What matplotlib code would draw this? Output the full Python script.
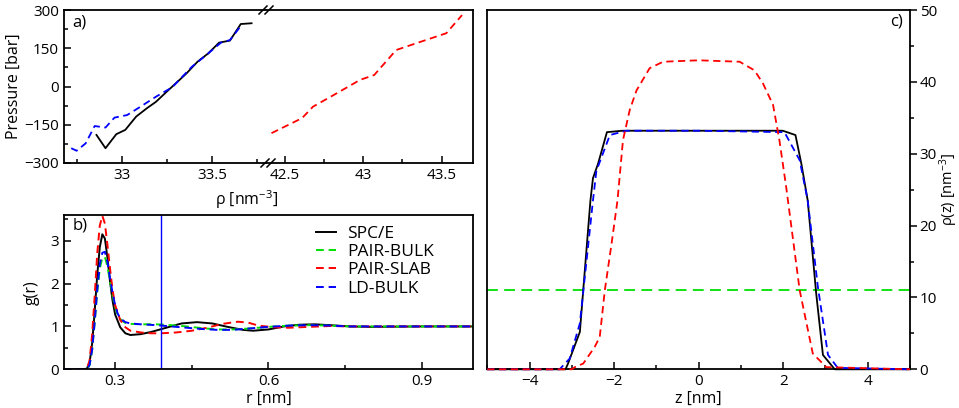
import matplotlib
matplotlib.use("Agg")
import matplotlib.pyplot as plt
from matplotlib.ticker import MultipleLocator
from matplotlib.lines import Line2D

plt.rcParams['font.family'] = ['Open Sans', 'DejaVu Sans']
plt.rcParams['mathtext.fontset'] = 'custom'
plt.rcParams['mathtext.rm'] = 'Open Sans'
plt.rcParams['mathtext.default'] = 'regular'
plt.rcParams['font.size'] = 11

# ---- panel a: pressure vs density ----
rho_spce = [32.86, 32.91, 32.97, 33.02, 33.08, 33.14, 33.19, 33.25, 33.31, 33.36,
            33.42, 33.48, 33.54, 33.60, 33.66, 33.72]
p_spce = [-190, -242, -187, -170, -118, -85, -60, -20, 19, 52,
          97, 130, 172, 180, 245, 248]
rho_ld = [32.72, 32.75, 32.80, 32.85, 32.91, 32.96, 33.03, 33.10, 33.19, 33.28,
          33.39, 33.48, 33.55, 33.60, 33.66]
p_ld = [-242, -252, -223, -155, -161, -122, -112, -81, -40, -3,
        78, 130, 172, 182, 237]
rho_slab = [42.415, 42.61, 42.68, 42.83, 42.98, 43.07, 43.21, 43.34, 43.53, 43.63]
p_slab = [-183, -124, -79, -27, 26, 45, 143, 170, 209, 280]

# ---- panel b: radial distribution functions ----
r_spce = [0.20, 0.24, 0.245, 0.25, 0.255, 0.26, 0.265, 0.27, 0.275, 0.28, 0.285, 0.29,
          0.295, 0.30, 0.31, 0.32, 0.33, 0.35, 0.37, 0.40, 0.43, 0.46, 0.49, 0.52,
          0.55, 0.57, 0.60, 0.63, 0.66, 0.69, 0.72, 0.76, 0.80, 0.90, 1.00]
g_spce = [0, 0, 0.02, 0.15, 0.6, 1.35, 2.2, 2.85, 3.15, 3.05, 2.6, 2.05,
          1.6, 1.28, 0.98, 0.84, 0.80, 0.82, 0.87, 0.97, 1.07, 1.10, 1.07, 0.99,
          0.92, 0.90, 0.93, 1.00, 1.04, 1.05, 1.03, 1.00, 0.99, 1.0, 1.0]
r_slab = [0.20, 0.24, 0.245, 0.25, 0.255, 0.26, 0.265, 0.27, 0.275, 0.28, 0.285, 0.29,
          0.295, 0.30, 0.31, 0.32, 0.33, 0.35, 0.37, 0.39, 0.42, 0.45, 0.48, 0.51,
          0.54, 0.56, 0.58, 0.61, 0.64, 0.68, 0.72, 0.76, 0.80, 0.90, 1.00]
g_slab = [0, 0, 0.03, 0.2, 0.8, 1.7, 2.7, 3.35, 3.58, 3.4, 2.9, 2.35,
          1.85, 1.5, 1.15, 0.98, 0.9, 0.86, 0.84, 0.84, 0.86, 0.9, 0.97, 1.06,
          1.11, 1.09, 1.02, 0.98, 0.97, 0.99, 1.01, 1.00, 1.0, 1.0, 1.0]
r_bulk = [0.20, 0.245, 0.25, 0.255, 0.26, 0.265, 0.27, 0.275, 0.28, 0.285, 0.29,
          0.295, 0.30, 0.305, 0.31, 0.32, 0.33, 0.35, 0.38, 0.41, 0.44, 0.47,
          0.50, 0.53, 0.56, 0.60, 0.64, 0.68, 0.72, 0.76, 0.80, 0.90, 1.00]
g_pair_bulk = [0, 0, 0.1, 0.45, 1.1, 1.8, 2.35, 2.6, 2.62, 2.4, 2.05,
               1.72, 1.45, 1.27, 1.17, 1.08, 1.06, 1.05, 1.05, 1.03, 1.0, 0.96,
               0.93, 0.93, 0.95, 0.99, 1.02, 1.03, 1.02, 1.0, 1.0, 1.0, 1.0]
g_ld_bulk = [0, 0, 0.1, 0.45, 1.1, 1.85, 2.45, 2.72, 2.74, 2.5, 2.12,
             1.78, 1.5, 1.3, 1.19, 1.1, 1.07, 1.05, 1.03, 1.0, 0.97, 0.94,
             0.92, 0.92, 0.95, 0.99, 1.02, 1.03, 1.02, 1.0, 1.0, 1.0, 1.0]
r_cut = 0.39

# ---- panel c: density profiles ----
z_spce = [-5, -3.15, -3.09, -2.81, -2.56, -2.5, -2.38, -2.17, -1.8, 0, 1.99,
          2.29, 2.43, 2.58, 2.78, 2.94, 3.22, 5]
d_spce = [0, 0, 0.8, 5.2, 23.5, 26.6, 28.6, 33.0, 33.2, 33.2, 33.2,
          32.6, 28.6, 23.5, 10.6, 2.0, 0, 0]
z_bulk = [-5, 5]
d_pair_bulk = [11.0, 11.0]
z_slab = [-5, -3.0, -2.93, -2.73, -2.46, -2.34, -2.22, -2.06, -1.92, -1.79, -1.63,
          -1.47, -1.16, -0.84, 0, 0.97, 1.32, 1.52, 1.76, 1.91, 2.07, 2.39, 2.7,
          3.02, 5]
d_slab = [0, 0, 0.3, 0.8, 3.1, 4.5, 11.0, 17.5, 23.5, 31.9, 36.1,
          38.8, 41.9, 42.8, 43.0, 42.8, 41.6, 39.8, 36.8, 31.9, 25.4, 11.0, 2.2,
          0.3, 0]
z_ld = [-5, -3.29, -3.05, -2.81, -2.5, -2.42, -2.1, -1.71, 0, 2.03, 2.39, 2.58,
        2.82, 3.06, 3.29, 5]
d_ld = [0, 0, 1.5, 6.4, 23.5, 27.6, 32.6, 33.2, 33.2, 33.0, 29.1, 23.5,
        11.5, 2.0, 0.2, 0]

BLACK, GREEN, RED, BLUE = 'black', '#00e000', '#ff0000', '#0000ff'
DASH = (4, 2.5)

W, H = 959, 408
fig = plt.figure(figsize=(W / 100, H / 100), dpi=100)


def box(x0, y0, x1, y1):
    # pixel box (from top-left) -> figure fraction rect
    return [x0 / W, 1 - y1 / H, (x1 - x0) / W, (y1 - y0) / H]


def style(ax):
    for s in ax.spines.values():
        s.set_linewidth(1.3)
    ax.tick_params(which='both', direction='in', width=1.1)
    ax.tick_params(which='major', length=5)
    ax.tick_params(which='minor', length=3)


# panel a
axl = fig.add_axes(box(64, 10, 266, 163))
axr = fig.add_axes(box(266, 10, 473, 163))
for ax in (axl, axr):
    style(ax)
axl.plot(rho_spce, p_spce, color=BLACK, lw=1.3)
axl.plot(rho_ld, p_ld, color=BLUE, lw=1.3, dashes=DASH)
axr.plot(rho_slab, p_slab, color=RED, lw=1.3, dashes=DASH)
axl.set_xlim(32.68, 33.8)
axr.set_xlim(42.38, 43.7)
for ax in (axl, axr):
    ax.set_ylim(-300, 300)
    ax.xaxis.set_minor_locator(MultipleLocator(0.25))
axl.set_xticks([33, 33.5])
axl.set_xticklabels(['33', '33.5'])
axr.set_xticks([42.5, 43, 43.5])
axr.set_xticklabels(['42.5', '43', '43.5'])
axl.set_yticks([-300, -150, 0, 150, 300])
axl.yaxis.set_minor_locator(MultipleLocator(75))
axl.spines['right'].set_visible(False)
axr.spines['left'].set_visible(False)
axr.tick_params(axis='y', which='both', left=False, labelleft=False)
axl.set_ylabel('Pressure [bar]', fontsize=11.5, labelpad=2)
axl.text(0.04, 0.92, 'a)', transform=axl.transAxes, fontsize=12, va='center')
fig.text(247 / W, 1 - 200 / H, r'ρ [nm$^{-3}$]', ha='center', va='center', fontsize=11.5)

# break marks
for xp, yp in ((266, 10), (268, 163)):
    for dx in (-3, 3):
        fig.add_artist(Line2D([(xp + dx - 4) / W, (xp + dx + 4) / W],
                              [1 - (yp + 4) / H, 1 - (yp - 4) / H],
                              color='black', lw=1.1))

# panel b
axb = fig.add_axes(box(64, 215, 473, 369.3))
style(axb)
axb.plot(r_spce, g_spce, color=BLACK, lw=1.4, label='SPC/E')
axb.plot(r_bulk, g_pair_bulk, color=GREEN, lw=1.4, dashes=DASH, label='PAIR-BULK')
axb.plot(r_slab, g_slab, color=RED, lw=1.4, dashes=DASH, label='PAIR-SLAB')
axb.plot(r_bulk, g_ld_bulk, color=BLUE, lw=1.4, dashes=DASH, label='LD-BULK')
axb.axvline(r_cut, color=BLUE, lw=1)
axb.set_xlim(0.2, 1.0)
axb.set_ylim(0, 3.6)
axb.set_xticks([0.3, 0.6, 0.9])
axb.xaxis.set_minor_locator(MultipleLocator(0.15))
axb.set_yticks([0, 1, 2, 3])
axb.yaxis.set_minor_locator(MultipleLocator(0.5))
axb.set_xlabel('r [nm]', fontsize=11.5, labelpad=1)
axb.set_ylabel('g(r)', fontsize=11.5, labelpad=8)
axb.text(0.02, 0.93, 'b)', transform=axb.transAxes, fontsize=12, va='center')
axb.legend(loc='upper left', bbox_to_anchor=(0.615, 0.93), frameon=False,
           fontsize=12.5, handlelength=1.2, handletextpad=0.6, labelspacing=0.12,
           borderpad=0, borderaxespad=0)

# panel c
axc = fig.add_axes(box(487.3, 10, 910, 369.3))
style(axc)
axc.plot(z_spce, d_spce, color=BLACK, lw=1.3, clip_on=False, zorder=3)
axc.plot(z_bulk, d_pair_bulk, color=GREEN, lw=1.3, dashes=(6, 3.5))
axc.plot(z_slab, d_slab, color=RED, lw=1.3, dashes=DASH, clip_on=False, zorder=4)
axc.plot(z_ld, d_ld, color=BLUE, lw=1.3, dashes=DASH, clip_on=False, zorder=3)
axc.set_xlim(-5, 5)
axc.set_ylim(0, 50)
axc.set_xticks([-4, -2, 0, 2, 4])
axc.xaxis.set_minor_locator(MultipleLocator(1))
axc.yaxis.tick_right()
axc.yaxis.set_label_position('right')
axc.set_yticks([0, 10, 20, 30, 40, 50])
axc.yaxis.set_minor_locator(MultipleLocator(5))
axc.tick_params(axis='y', which='both', direction='out', left=False, right=True, pad=2)
axc.set_xlabel('z [nm]', fontsize=11.5, labelpad=1)
axc.set_ylabel(r'ρ(z) [nm$^{-3}$]', fontsize=10.5, labelpad=0)
axc.text(0.983, 0.967, 'c)', transform=axc.transAxes, fontsize=12, va='center', ha='right')

fig.savefig('out.png', dpi=100)
